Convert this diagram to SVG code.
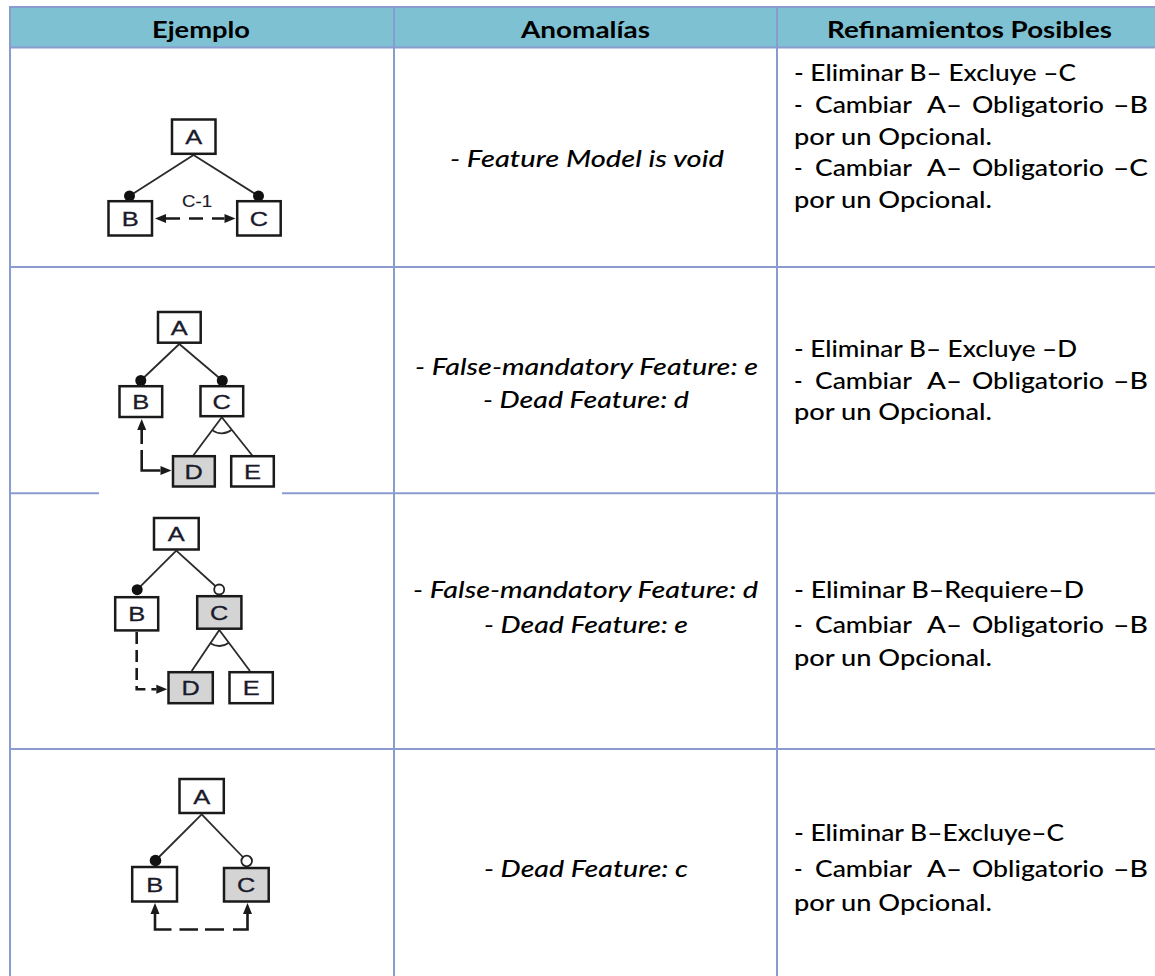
<svg xmlns="http://www.w3.org/2000/svg" width="1155" height="976" viewBox="0 0 1155 976">
<defs>
<style>
.grid{stroke:#8A9BCF;stroke-width:2;fill:none}
.hd{font-family:Lato,"Open Sans",sans-serif;font-weight:bold;font-size:23px;fill:#000}
.bd{font-family:Lato,"Open Sans",sans-serif;font-weight:500;font-size:23px;fill:#000}
.it{font-family:Lato,"Open Sans",sans-serif;font-weight:500;font-style:italic;font-size:23px;fill:#000}
.box{fill:#fff;stroke:#1a1a1a;stroke-width:2.5}
.dead{fill:#d4d4d4}
.lbl{font-family:"Liberation Sans",Arial,sans-serif;font-size:21px;fill:#1a1a2a;stroke:#1a1a2a;stroke-width:0.3}
.edge{stroke:#2a2a2a;stroke-width:1.8;fill:none}
.mand{fill:#111}
.opt{fill:#fff;stroke:#222;stroke-width:1.8}
.ctc{stroke:#1a1a1a;stroke-width:2.6;fill:none}
</style>
<marker id="tip" markerUnits="userSpaceOnUse" markerWidth="12" markerHeight="10" refX="0" refY="5" orient="auto-start-reverse" overflow="visible">
<path d="M0,0.5 L11,5 L0,9.5 z" fill="#1a1a1a"/>
</marker>
</defs>

<rect width="1155" height="976" fill="#fff"/>

<!-- table header band -->
<rect x="10" y="8" width="1145" height="39" fill="#7EC1D2"/>

<!-- table grid -->
<g id="grid" class="grid">
<line x1="9" y1="7" x2="1155" y2="7"/>
<line x1="9" y1="47.5" x2="1155" y2="47.5"/>
<line x1="9" y1="267" x2="1155" y2="267"/>
<line x1="9" y1="493.3" x2="99" y2="493.3"/>
<line x1="282" y1="493.3" x2="1155" y2="493.3"/>
<line x1="9" y1="749" x2="1155" y2="749"/>
<line x1="10" y1="7" x2="10" y2="976"/>
<line x1="394" y1="7" x2="394" y2="976"/>
<line x1="777" y1="7" x2="777" y2="976"/>
</g>

<!-- column headings -->
<g id="header">
<text class="hd" x="152" y="38" textLength="98" lengthAdjust="spacingAndGlyphs">Ejemplo</text>
<text class="hd" x="521" y="38" textLength="129" lengthAdjust="spacingAndGlyphs">Anomalías</text>
<text class="hd" x="827" y="38" textLength="285" lengthAdjust="spacingAndGlyphs">Refinamientos Posibles</text>
</g>

<!-- ===== row 1 ===== -->
<g id="r1-connectors">
<line class="edge" x1="193.5" y1="155" x2="129.5" y2="196"/>
<line class="edge" x1="193.5" y1="155" x2="258.5" y2="196"/>
<circle class="mand" cx="129.5" cy="196" r="5.5"/>
<circle class="mand" cx="258.5" cy="196" r="5.5"/>
<path class="ctc" d="M166,218.5 H224.5" stroke-dasharray="14 9" marker-start="url(#tip)" marker-end="url(#tip)"/>
<text class="lbl" x="182" y="207" style="font-size:17px;stroke-width:0.2" textLength="30" lengthAdjust="spacingAndGlyphs">C-1</text>
</g>
<g id="r1-A"><rect class="box" x="172" y="119.5" width="43.5" height="34.3"/><text class="lbl" x="185.2" y="144.2" textLength="17" lengthAdjust="spacingAndGlyphs">A</text></g>
<g id="r1-B"><rect class="box" x="108.5" y="201.2" width="43.5" height="34.3"/><text class="lbl" x="121.8" y="225.9" textLength="17" lengthAdjust="spacingAndGlyphs">B</text></g>
<g id="r1-C"><rect class="box" x="237.2" y="201.2" width="43.5" height="34.3"/><text class="lbl" x="249.8" y="225.9" textLength="18.3" lengthAdjust="spacingAndGlyphs">C</text></g>

<g id="r1-anomaly">
<text class="it" x="450" y="167" textLength="274" lengthAdjust="spacingAndGlyphs">- Feature Model is void</text>
</g>
<g id="r1-refine">
<text class="bd" x="794" y="81" textLength="282" lengthAdjust="spacingAndGlyphs">- Eliminar B– Excluye –C</text>
<text class="bd" x="794" y="113">-</text>
<text class="bd" x="815" y="113" textLength="97" lengthAdjust="spacingAndGlyphs">Cambiar</text>
<text class="bd" x="927" y="113" textLength="35" lengthAdjust="spacingAndGlyphs">A–</text>
<text class="bd" x="972" y="113" textLength="132" lengthAdjust="spacingAndGlyphs">Obligatorio</text>
<text class="bd" x="1113" y="113" textLength="35" lengthAdjust="spacingAndGlyphs">–B</text>
<text class="bd" x="794" y="144.5" textLength="198" lengthAdjust="spacingAndGlyphs">por un Opcional.</text>
<text class="bd" x="794" y="176">-</text>
<text class="bd" x="815" y="176" textLength="97" lengthAdjust="spacingAndGlyphs">Cambiar</text>
<text class="bd" x="927" y="176" textLength="35" lengthAdjust="spacingAndGlyphs">A–</text>
<text class="bd" x="972" y="176" textLength="132" lengthAdjust="spacingAndGlyphs">Obligatorio</text>
<text class="bd" x="1113" y="176" textLength="35" lengthAdjust="spacingAndGlyphs">–C</text>
<text class="bd" x="794" y="208" textLength="198" lengthAdjust="spacingAndGlyphs">por un Opcional.</text>
</g>

<!-- ===== row 2 ===== -->
<g id="r2-connectors">
<line class="edge" x1="179.3" y1="344" x2="140.8" y2="380.5"/>
<line class="edge" x1="179.3" y1="344" x2="222.3" y2="380.5"/>
<circle class="mand" cx="140.8" cy="380.5" r="5.5"/>
<circle class="mand" cx="222.3" cy="380.5" r="5.5"/>
<line class="edge" x1="221.8" y1="417.3" x2="193.3" y2="455.5"/>
<line class="edge" x1="221.8" y1="417.3" x2="252.3" y2="455.5"/>
<path class="edge" d="M212.2,430.1 A16,16 0 0 0 231.8,429.8"/>
<path class="ctc" d="M141.7,430 V470.5 H160.5" stroke-dasharray="14 6 80" marker-start="url(#tip)" marker-end="url(#tip)"/>
</g>
<g id="r2-A"><rect class="box" x="158" y="312" width="42.7" height="30.7"/><text class="lbl" x="170.8" y="334.9" textLength="17" lengthAdjust="spacingAndGlyphs">A</text></g>
<g id="r2-B"><rect class="box" x="119.5" y="386.2" width="42.7" height="30.8"/><text class="lbl" x="132.3" y="409.4" textLength="17" lengthAdjust="spacingAndGlyphs">B</text></g>
<g id="r2-C"><rect class="box" x="200.5" y="386.2" width="42.7" height="30"/><text class="lbl" x="212.6" y="408.9" textLength="18.3" lengthAdjust="spacingAndGlyphs">C</text></g>
<g id="r2-D"><rect class="box dead" x="173" y="456.2" width="41.8" height="30.3"/><text class="lbl" x="184.6" y="478.9" textLength="18.3" lengthAdjust="spacingAndGlyphs">D</text></g>
<g id="r2-E"><rect class="box" x="231.2" y="456.2" width="42.6" height="30.3"/><text class="lbl" x="244" y="478.9" textLength="17" lengthAdjust="spacingAndGlyphs">E</text></g>

<g id="r2-anomaly">
<text class="it" x="415" y="375" textLength="343" lengthAdjust="spacingAndGlyphs">- False-mandatory Feature: e</text>
<text class="it" x="483" y="408" textLength="206" lengthAdjust="spacingAndGlyphs">- Dead Feature: d</text>
</g>
<g id="r2-refine">
<text class="bd" x="794" y="357" textLength="283" lengthAdjust="spacingAndGlyphs">- Eliminar B– Excluye –D</text>
<text class="bd" x="794" y="388.5">-</text>
<text class="bd" x="815" y="388.5" textLength="97" lengthAdjust="spacingAndGlyphs">Cambiar</text>
<text class="bd" x="927" y="388.5" textLength="35" lengthAdjust="spacingAndGlyphs">A–</text>
<text class="bd" x="972" y="388.5" textLength="132" lengthAdjust="spacingAndGlyphs">Obligatorio</text>
<text class="bd" x="1113" y="388.5" textLength="35" lengthAdjust="spacingAndGlyphs">–B</text>
<text class="bd" x="794" y="420" textLength="198" lengthAdjust="spacingAndGlyphs">por un Opcional.</text>
</g>

<!-- ===== row 3 ===== -->
<g id="r3-connectors">
<line class="edge" x1="176.3" y1="550.7" x2="137.2" y2="589.7"/>
<line class="edge" x1="176.3" y1="550.7" x2="219.2" y2="589.5"/>
<circle class="mand" cx="137.2" cy="589.7" r="5.5"/>
<circle class="opt" cx="219.2" cy="589.5" r="5"/>
<line class="edge" x1="219.3" y1="630" x2="191.7" y2="671"/>
<line class="edge" x1="219.3" y1="630" x2="250" y2="671"/>
<path class="edge" d="M210.4,643.3 A16,16 0 0 0 228.9,642.8"/>
<path class="ctc" d="M136.7,632 V689.3 H156.3" stroke-dasharray="12 6" marker-end="url(#tip)"/>
</g>
<g id="r3-A"><rect class="box" x="154" y="518" width="44.7" height="31.5"/><text class="lbl" x="167.8" y="541.4" textLength="17" lengthAdjust="spacingAndGlyphs">A</text></g>
<g id="r3-B"><rect class="box" x="115.2" y="597.2" width="43" height="33.2"/><text class="lbl" x="128.2" y="621.4" textLength="17" lengthAdjust="spacingAndGlyphs">B</text></g>
<g id="r3-C"><rect class="box dead" x="197.2" y="596.2" width="44.2" height="32.5"/><text class="lbl" x="210.1" y="620.4" textLength="18.3" lengthAdjust="spacingAndGlyphs">C</text></g>
<g id="r3-D"><rect class="box dead" x="168.5" y="672.2" width="44.3" height="31"/><text class="lbl" x="181.5" y="695.4" textLength="18.3" lengthAdjust="spacingAndGlyphs">D</text></g>
<g id="r3-E"><rect class="box" x="229.5" y="672.2" width="43.3" height="31"/><text class="lbl" x="242.7" y="695.4" textLength="17" lengthAdjust="spacingAndGlyphs">E</text></g>

<g id="r3-anomaly">
<text class="it" x="413" y="598" textLength="345" lengthAdjust="spacingAndGlyphs">- False-mandatory Feature: d</text>
<text class="it" x="484" y="632.5" textLength="204" lengthAdjust="spacingAndGlyphs">- Dead Feature: e</text>
</g>
<g id="r3-refine">
<text class="bd" x="794" y="598" textLength="290" lengthAdjust="spacingAndGlyphs">- Eliminar B–Requiere–D</text>
<text class="bd" x="794" y="632.5">-</text>
<text class="bd" x="815" y="632.5" textLength="97" lengthAdjust="spacingAndGlyphs">Cambiar</text>
<text class="bd" x="927" y="632.5" textLength="35" lengthAdjust="spacingAndGlyphs">A–</text>
<text class="bd" x="972" y="632.5" textLength="132" lengthAdjust="spacingAndGlyphs">Obligatorio</text>
<text class="bd" x="1113" y="632.5" textLength="35" lengthAdjust="spacingAndGlyphs">–B</text>
<text class="bd" x="794" y="666" textLength="198" lengthAdjust="spacingAndGlyphs">por un Opcional.</text>
</g>

<!-- ===== row 4 ===== -->
<g id="r4-connectors">
<line class="edge" x1="201.7" y1="814.3" x2="155.5" y2="860.5"/>
<line class="edge" x1="201.7" y1="814.3" x2="246.7" y2="861"/>
<circle class="mand" cx="155.5" cy="860.5" r="5.8"/>
<circle class="opt" cx="246.7" cy="861" r="5.3"/>
<path class="ctc" d="M155,914 V929.5 H247.5 V914" stroke-dasharray="32 8 18.5 7 19 9 31" marker-start="url(#tip)" marker-end="url(#tip)"/>
</g>
<g id="r4-A"><rect class="box" x="179.5" y="779" width="44.3" height="34"/><text class="lbl" x="193.2" y="803.7" textLength="17" lengthAdjust="spacingAndGlyphs">A</text></g>
<g id="r4-B"><rect class="box" x="132.2" y="867" width="44.8" height="34.5"/><text class="lbl" x="146.2" y="891.9" textLength="17" lengthAdjust="spacingAndGlyphs">B</text></g>
<g id="r4-C"><rect class="box dead" x="224" y="868" width="44.7" height="33.5"/><text class="lbl" x="237.1" y="892.4" textLength="18.3" lengthAdjust="spacingAndGlyphs">C</text></g>

<g id="r4-anomaly">
<text class="it" x="484" y="877" textLength="204" lengthAdjust="spacingAndGlyphs">- Dead Feature: c</text>
</g>
<g id="r4-refine">
<text class="bd" x="794" y="840.5" textLength="270" lengthAdjust="spacingAndGlyphs">- Eliminar B–Excluye–C</text>
<text class="bd" x="794" y="877">-</text>
<text class="bd" x="815" y="877" textLength="97" lengthAdjust="spacingAndGlyphs">Cambiar</text>
<text class="bd" x="927" y="877" textLength="35" lengthAdjust="spacingAndGlyphs">A–</text>
<text class="bd" x="972" y="877" textLength="132" lengthAdjust="spacingAndGlyphs">Obligatorio</text>
<text class="bd" x="1113" y="877" textLength="35" lengthAdjust="spacingAndGlyphs">–B</text>
<text class="bd" x="794" y="911" textLength="198" lengthAdjust="spacingAndGlyphs">por un Opcional.</text>
</g>
</svg>
